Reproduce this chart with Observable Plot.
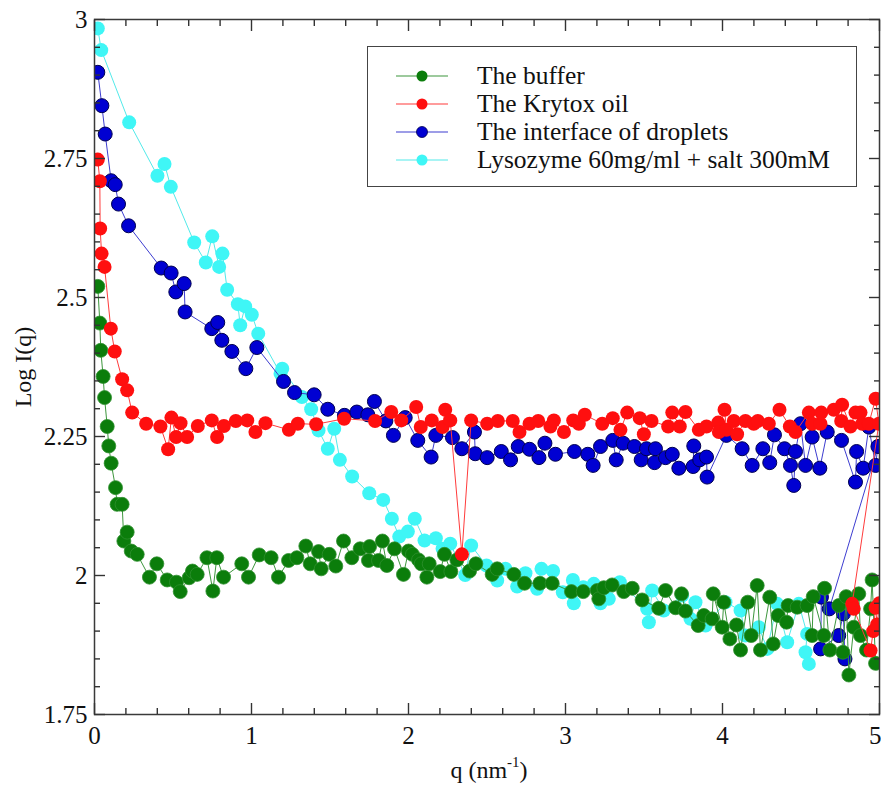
<!DOCTYPE html>
<html><head><meta charset="utf-8">
<script src="https://cdn.jsdelivr.net/npm/d3@7"></script>
<script src="https://cdn.jsdelivr.net/npm/@observablehq/plot@0.6"></script>
<style>
body{margin:0;background:#fff;}
#wrap{position:relative;width:881px;height:786px;font-family:"Liberation Serif","Times New Roman",serif;color:#111;}
.ylab{position:absolute;left:23px;top:367px;transform:translate(-50%,-50%) rotate(-90deg);white-space:nowrap;font-size:24px;}
.xlab{position:absolute;left:489px;top:770px;transform:translate(-50%,-50%);white-space:nowrap;font-size:24px;}
.xlab sup{font-size:15px;position:relative;top:-2px;}
.legend{position:absolute;left:367px;top:46px;width:488px;height:139px;border:1.5px solid #444;background:#fff;}
.legend .row{position:absolute;left:0;height:28px;width:100%;}
.legend svg{position:absolute;left:0;top:0;}
.legend span{position:absolute;left:109px;top:50%;transform:translateY(-50%);font-size:25.5px;white-space:nowrap;line-height:1;}
</style></head><body><div id="wrap"></div>
<script>
// ---- data ----
const seriesNames = ["The buffer", "The Krytox oil", "The interface of droplets", "Lysozyme 60mg/ml + salt 300mM"];

const qBuffer = [0.021,0.034,0.040,0.055,0.064,0.081,0.091,0.106,0.134,0.144,
  0.176,0.187,0.208,0.234,0.272,0.350,0.397,0.463,0.522,0.546,
  0.603,0.624,0.654,0.716,0.754,0.779,0.822,0.938,0.981,1.049,
  1.125,1.172,1.236,1.289,1.346,1.374,1.427,1.444,1.495,1.537,
  1.586,1.639,1.692,1.745,1.752,1.809,1.834,1.862,1.911,1.968,
  2.000,2.025,2.064,2.081,2.117,2.132,2.202,2.229,2.270,2.308,
  2.389,2.429,2.533,2.565,2.671,2.739,2.837,2.915,3.038,3.113,
  3.202,3.212,3.244,3.297,3.371,3.425,3.488,3.594,3.637,3.701,
  3.739,3.764,3.845,3.881,3.934,3.941,3.998,4.008,4.047,4.089,
  4.115,4.161,4.183,4.221,4.242,4.301,4.323,4.355,4.408,4.418,
  4.476,4.539,4.571,4.578,4.645,4.650,4.684,4.741,4.767,4.788,
  4.805,4.836,4.868,4.879,4.917,4.943,4.953,4.975];
const logBuffer = [2.520,2.454,2.405,2.358,2.320,2.268,2.233,2.202,2.158,2.128,
  2.128,2.062,2.078,2.044,2.038,1.997,2.021,1.992,1.988,1.971,
  1.996,2.008,2.002,2.032,1.972,2.032,1.997,2.021,1.997,2.037,
  2.032,1.997,2.027,2.032,2.053,2.021,2.043,2.012,2.038,2.017,
  2.062,2.032,2.048,2.027,2.052,2.027,2.062,2.018,2.048,2.002,
  2.044,2.038,2.028,2.021,1.997,2.021,2.007,2.038,2.007,2.028,
  2.008,2.021,2.002,2.012,2.002,1.986,1.986,1.986,1.971,1.971,
  1.973,1.958,1.978,1.983,1.971,1.977,1.956,1.941,1.973,1.942,
  1.967,1.936,1.910,1.928,1.922,1.967,1.907,1.952,1.886,1.911,
  1.866,1.952,1.892,1.982,1.866,1.961,1.877,1.928,1.916,1.946,
  1.943,1.946,1.892,1.962,1.892,1.977,1.866,1.946,1.862,1.962,
  1.821,1.907,1.967,1.892,1.866,1.940,1.992,1.842];

const qKrytox = [0.021,0.034,0.036,0.045,0.064,0.104,0.129,0.176,0.208,0.240,
  0.329,0.420,0.469,0.490,0.520,0.548,0.590,0.658,0.747,0.781,
  0.824,0.900,0.973,1.025,1.089,1.238,1.295,1.412,1.590,1.787,
  1.890,1.954,2.049,2.078,2.148,2.217,2.234,2.266,2.340,2.399,
  2.501,2.569,2.664,2.707,2.771,2.826,2.904,2.926,2.990,3.049,
  3.085,3.123,3.234,3.301,3.350,3.393,3.473,3.499,3.548,3.654,
  3.680,3.728,3.764,3.849,3.898,3.973,3.977,4.013,4.025,4.072,
  4.093,4.146,4.199,4.225,4.295,4.363,4.429,4.465,4.550,4.571,
  4.624,4.629,4.709,4.756,4.762,4.815,4.847,4.879,4.890,4.932,
  4.975,4.996,4.826,4.836,4.943,4.960,4.975,4.985,5.000];
const logKrytox = [2.748,2.709,2.624,2.579,2.555,2.444,2.403,2.353,2.333,2.293,
  2.273,2.268,2.227,2.284,2.249,2.274,2.249,2.269,2.279,2.249,
  2.269,2.278,2.279,2.258,2.274,2.262,2.273,2.272,2.282,2.278,
  2.294,2.279,2.303,2.267,2.279,2.267,2.298,2.279,2.038,2.279,
  2.273,2.278,2.278,2.258,2.273,2.278,2.268,2.279,2.258,2.279,
  2.273,2.289,2.273,2.283,2.262,2.293,2.283,2.254,2.278,2.268,
  2.293,2.268,2.294,2.262,2.268,2.275,2.258,2.298,2.262,2.278,
  2.254,2.278,2.273,2.278,2.273,2.298,2.268,2.258,2.293,2.273,
  2.273,2.293,2.298,2.278,2.307,2.268,2.293,2.293,2.273,2.273,
  2.318,2.273,1.949,1.940,1.865,1.900,1.942,1.912,1.950];

const qInterface = [0.021,0.047,0.068,0.106,0.132,0.153,0.217,0.425,0.488,0.518,
  0.571,0.577,0.747,0.785,0.811,0.875,0.964,1.034,1.204,1.274,
  1.399,1.486,1.592,1.671,1.741,1.783,1.856,1.904,1.979,2.059,
  2.144,2.174,2.280,2.340,2.420,2.425,2.501,2.591,2.650,2.699,
  2.771,2.831,2.869,2.936,3.057,3.142,3.176,3.223,3.301,3.323,
  3.367,3.439,3.482,3.516,3.573,3.567,3.637,3.680,3.722,3.813,
  3.817,3.855,3.898,3.902,4.025,4.125,4.189,4.257,4.301,4.331,
  4.395,4.433,4.454,4.465,4.497,4.529,4.571,4.620,4.667,4.758,
  4.847,4.854,4.896,4.932,4.975,4.990,4.680,4.630,4.625,4.740,
  4.770,4.780];
const logInterface = [2.905,2.845,2.794,2.710,2.703,2.668,2.629,2.553,2.544,2.510,
  2.525,2.474,2.444,2.455,2.423,2.403,2.372,2.410,2.349,2.329,
  2.325,2.299,2.288,2.294,2.289,2.313,2.278,2.252,2.284,2.243,
  2.213,2.252,2.248,2.228,2.258,2.219,2.212,2.223,2.208,2.232,
  2.227,2.212,2.238,2.218,2.223,2.218,2.198,2.232,2.243,2.208,
  2.238,2.232,2.208,2.228,2.228,2.203,2.212,2.218,2.193,2.196,
  2.233,2.208,2.213,2.177,2.252,2.228,2.198,2.228,2.203,2.253,
  2.228,2.198,2.162,2.223,2.273,2.198,2.249,2.193,2.258,2.243,
  2.168,2.223,2.193,2.267,2.198,2.232,1.940,1.961,1.868,1.892,
  1.931,1.850];

const qLysozyme = [0.021,0.043,0.221,0.401,0.446,0.486,0.635,0.709,0.750,0.794,
  0.815,0.845,0.913,0.928,0.960,1.002,1.043,1.185,1.196,1.321,
  1.380,1.427,1.486,1.527,1.563,1.641,1.750,1.839,1.894,1.941,
  1.996,2.040,2.102,2.174,2.217,2.266,2.361,2.399,2.497,2.565,
  2.618,2.692,2.745,2.819,2.847,2.921,2.983,3.047,3.053,3.113,
  3.180,3.223,3.276,3.346,3.520,3.531,3.552,3.626,3.743,3.796,
  3.828,3.892,4.019,4.115,4.146,4.231,4.285,4.348,4.412,4.486,
  4.539,4.529,4.550];
const logLysozyme = [2.984,2.945,2.815,2.719,2.740,2.699,2.599,2.563,2.610,2.555,
  2.579,2.514,2.488,2.450,2.484,2.469,2.435,2.363,2.372,2.321,
  2.299,2.261,2.228,2.264,2.208,2.178,2.148,2.136,2.102,2.070,
  2.079,2.102,2.063,2.067,2.048,2.057,2.001,2.054,2.018,1.991,
  2.012,1.980,2.004,1.976,2.012,2.008,1.970,1.992,1.950,1.979,
  1.985,1.950,1.958,1.988,1.940,1.916,1.973,1.937,1.964,1.922,
  1.952,1.910,1.952,1.937,1.892,1.907,1.868,1.949,1.880,1.949,
  1.895,1.862,1.841];

const xMajorTicks = [0, 1, 2, 3, 4, 5];
const xMinorTicks = [0.2,0.4,0.6,0.8,1.2,1.4,1.6,1.8,2.2,2.4,2.6,2.8,3.2,3.4,3.6,3.8,4.2,4.4,4.6,4.8];
const yMajorTicks = [1.75, 2, 2.25, 2.5, 2.75, 3];
const yMinorTicks = [1.8,1.85,1.9,1.95,2.05,2.1,2.15,2.2,2.3,2.35,2.4,2.45,2.55,2.6,2.65,2.7,2.8,2.85,2.9,2.95];

// ---- styling ----
const styles = {
  "The buffer": {fill: "#0b7d0b", stroke: "#2f8f2f", line: "#3d963d", sw: 0.8},
  "The Krytox oil": {fill: "#ff0f0f", stroke: "#ff2a2a", line: "#ff3b3b", sw: 0},
  "The interface of droplets": {fill: "#0000d2", stroke: "#000050", line: "#3d3dd0", sw: 1},
  "Lysozyme 60mg/ml + salt 300mM": {fill: "#3ff6f6", stroke: "#3ff6f6", line: "#52eaea", sw: 0}
};

const zip = (name, qs, vs) => qs.map((q, i) => ({series: name, q, v: vs[i]}));
const sets = {
  "The buffer": zip(seriesNames[0], qBuffer, logBuffer),
  "The Krytox oil": zip(seriesNames[1], qKrytox, logKrytox),
  "The interface of droplets": zip(seriesNames[2], qInterface, logInterface),
  "Lysozyme 60mg/ml + salt 300mM": zip(seriesNames[3], qLysozyme, logLysozyme)
};
const drawOrder = [seriesNames[3], seriesNames[2], seriesNames[0], seriesNames[1]];

const dataMarks = drawOrder.flatMap(name => {
  const s = styles[name];
  return [
    Plot.line(sets[name], {x: "q", y: "v", stroke: s.line, strokeWidth: 1, clip: true}),
    Plot.dot(sets[name], {x: "q", y: "v", r: 7, fill: s.fill, stroke: s.sw ? s.stroke : "none", strokeWidth: s.sw, clip: true})
  ];
});

const tickStyle = {label: null, stroke: "#333", strokeWidth: 1.4, tickFormat: () => ""};

const chart = Plot.plot({
  width: 881, height: 786,
  marginLeft: 94, marginRight: 2, marginTop: 19, marginBottom: 72,
  x: {domain: [0, 5]},
  y: {domain: [1.75, 3]},
  style: {fontFamily: '"Liberation Serif", "Times New Roman", serif', fontSize: "25px", color: "#111", background: "white"},
  marks: [
    ...dataMarks,
    Plot.frame({stroke: "#3a3a3a", strokeWidth: 1.5}),
    // tick labels (the last one nudged so it stays inside the picture)
    Plot.axisX(xMajorTicks.slice(0, -1), {anchor: "bottom", tickSize: 0, tickPadding: 12, tickFormat: d => String(d), label: null, fontSize: 25}),
    Plot.axisX(xMajorTicks.slice(-1), {anchor: "bottom", tickSize: 0, tickPadding: 12, tickFormat: d => String(d), label: null, fontSize: 25, textAnchor: "end", dx: 2}),
    Plot.axisY(yMajorTicks, {anchor: "left", tickSize: 0, tickPadding: 7, tickFormat: d => String(d), label: null, fontSize: 25}),
    // inward ticks on all four sides
    Plot.axisX(xMajorTicks, {anchor: "bottom", tickSize: -11, ...tickStyle}),
    Plot.axisX(xMinorTicks, {anchor: "bottom", tickSize: -6, ...tickStyle}),
    Plot.axisX(xMajorTicks, {anchor: "top", tickSize: -11, ...tickStyle}),
    Plot.axisX(xMinorTicks, {anchor: "top", tickSize: -6, ...tickStyle}),
    Plot.axisY(yMajorTicks, {anchor: "left", tickSize: -11, ...tickStyle}),
    Plot.axisY(yMinorTicks, {anchor: "left", tickSize: -6, ...tickStyle}),
    Plot.axisY(yMajorTicks, {anchor: "right", tickSize: -11, ...tickStyle}),
    Plot.axisY(yMinorTicks, {anchor: "right", tickSize: -6, ...tickStyle})
  ]
});

const wrap = document.getElementById("wrap");
wrap.appendChild(chart);

const ylab = document.createElement("div");
ylab.className = "ylab"; ylab.textContent = "Log I(q)";
wrap.appendChild(ylab);
const xlab = document.createElement("div");
xlab.className = "xlab"; xlab.innerHTML = "q (nm<sup>-1</sup>)";
wrap.appendChild(xlab);

// legend
const legend = document.createElement("div");
legend.className = "legend";
seriesNames.forEach((name, i) => {
  const s = styles[name];
  const row = document.createElement("div");
  row.className = "row";
  row.style.top = (15 + 28 * i) + "px";
  row.innerHTML = `<svg width="100" height="28"><line x1="28" x2="80" y1="14" y2="14" stroke="${s.line}" stroke-width="1.2"/><circle cx="54" cy="14" r="5.5" fill="${s.fill}" stroke="${name === seriesNames[2] ? s.stroke : 'none'}" stroke-width="0.8"/></svg><span>${name}</span>`;
  legend.appendChild(row);
});
wrap.appendChild(legend);
</script>
</body></html>
